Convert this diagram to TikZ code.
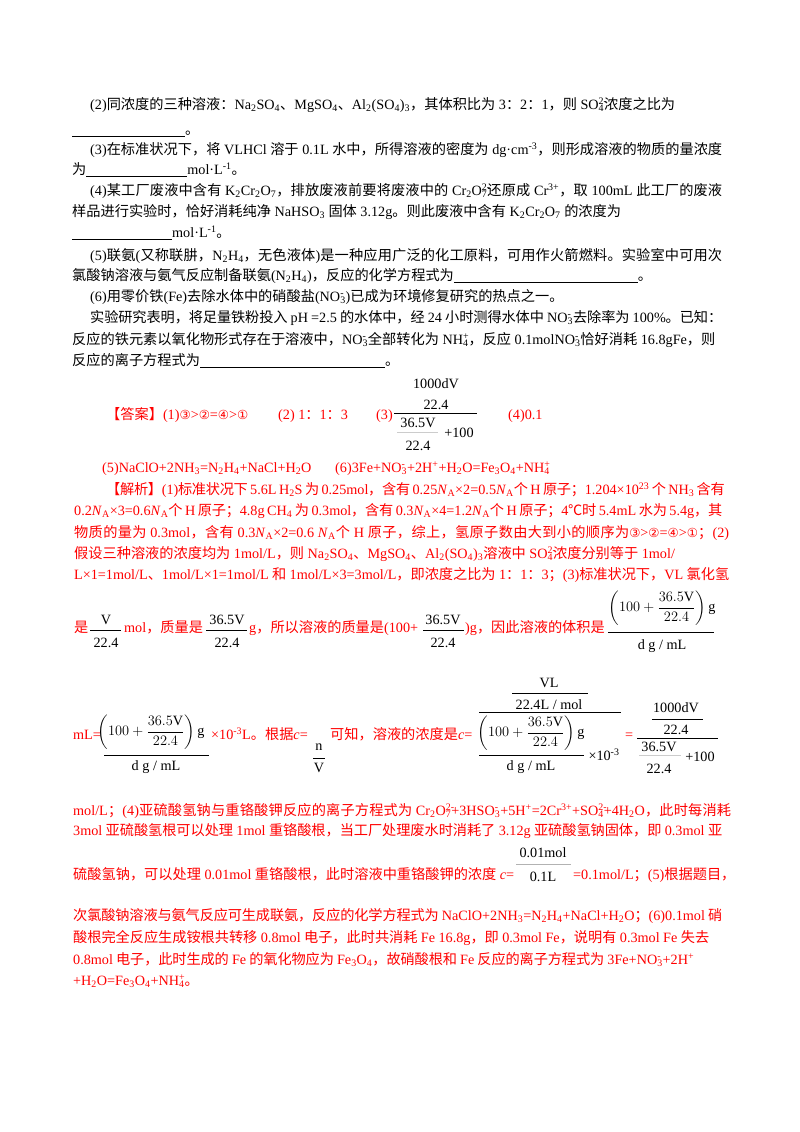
\documentclass[tikz,border=0pt]{standalone}
\usepackage{amsmath}
\usepackage{fontspec}
\setmainfont{Liberation Serif}
\newfontfamily\cjk{Noto Sans CJK SC}
\newfontfamily\latn{Liberation Serif}
\newfontfamily\dv{DejaVu Sans}
\XeTeXinterchartokenstate=1
\newXeTeXintercharclass\cjkclass
\newcount\cc
\def\setrange#1#2{\cc=#1\relax\loop\XeTeXcharclass\cc=\cjkclass\advance\cc1\relax\ifnum\cc<#2\repeat}
\setrange{"4E00}{"9FFF}
\setrange{"3000}{"303F}
\setrange{"FF00}{"FFEF}
\XeTeXcharclass"2103=\cjkclass
\XeTeXinterchartoks 0 \cjkclass={\hskip0pt plus 2pt minus .3pt\cjk}
\XeTeXinterchartoks 4095 \cjkclass={\cjk}
\XeTeXinterchartoks \cjkclass 0={\hskip0pt plus 2pt minus .3pt\latn}
\XeTeXinterchartoks \cjkclass 4095={\latn}
\XeTeXinterchartoks \cjkclass \cjkclass={\hskip0pt plus 2pt minus .3pt\relax}
\newcommand\dn[1]{\textsubscript{#1}}
\newcommand\up[1]{\textsuperscript{#1}}
\newcommand\io[2]{\rlap{\textsuperscript{#2}}\textsubscript{#1}}
\newcommand\NA{\textit{N}\dn{A}}
\newcommand\blank[1]{\rule[-2pt]{#1pt}{0.5pt}}
\newcommand\jl[2]{\makebox[#1pt][s]{#2}}
\newcommand\ci[1]{{\dv\fontsize{12.5}{14}\selectfont #1}}
\begin{document}
\begin{tikzpicture}[x=1pt,y=-1pt,
  t/.style={anchor=mid west,inner sep=0pt,font=\fontsize{14.2}{16}\selectfont},
  r/.style={t,text=red},
  m/.style={anchor=center,inner sep=0pt,font=\fontsize{14.2}{16}\selectfont}]
\useasboundingbox[fill=white] (0,0) rectangle (800,1132);
\node[t] (l1) at (90,107) {(2)同浓度的三种溶液：Na\dn{2}SO\dn{4}、MgSO\dn{4}、Al\dn{2}(SO\dn{4})\dn{3}，其体积比为 3：2：1，则 SO\io{4}{2-}浓度之比为};
\node[t] (l2) at (72,132) {\blank{113}。};
\node[t] (l3) at (90,152) {\jl{632}{(3)在标准状况下，将 VLHCl 溶于 0.1L 水中，所得溶液的密度为 dg·cm\up{-3}，则形成溶液的物质的量浓度}};
\node[t] (l4) at (72,172) {为\blank{101}mol·L\up{-1}。};
\node[t] (l5) at (90,193) {\jl{632}{(4)某工厂废液中含有 K\dn{2}Cr\dn{2}O\dn{7}，排放废液前要将废液中的 Cr\dn{2}O\io{7}{2-}还原成 Cr\up{3+}，取 100mL 此工厂的废液}};
\node[t] (l6) at (72,214) {样品进行实验时，恰好消耗纯净 NaHSO\dn{3} 固体 3.12g。则此废液中含有 K\dn{2}Cr\dn{2}O\dn{7} 的浓度为};
\node[t] (l7) at (72,235) {\blank{100}mol·L\up{-1}。};
\node[t] (l8) at (90,258) {\jl{632}{(5)联氨(又称联肼，N\dn{2}H\dn{4}，无色液体)是一种应用广泛的化工原料，可用作火箭燃料。实验室中可用次}};
\node[t] (l9) at (72,278) {氯酸钠溶液与氨气反应制备联氨(N\dn{2}H\dn{4})，反应的化学方程式为\blank{184}。};
\node[t] (l10) at (90,299) {(6)用零价铁(Fe)去除水体中的硝酸盐(NO\io{3}{-})已成为环境修复研究的热点之一。};
\node[t] (l11) at (90,320) {\jl{632}{实验研究表明，将足量铁粉投入 pH =2.5 的水体中，经 24 小时测得水体中 NO\io{3}{-}去除率为 100\%。已知：}};
\node[t] (l12) at (72,342) {反应的铁元素以氧化物形式存在于溶液中，NO\io{3}{-}全部转化为 NH\io{4}{+}，反应 0.1molNO\io{3}{-}恰好消耗 16.8gFe，则};
\node[t] (l13) at (72,363) {反应的离子方程式为\blank{185}。};
% answer
\node[r] (a1) at (106,417) {【答案】(1)\ci{③}>\ci{②}=\ci{④}>\ci{①}};
\node[r] (a2) at (278,417) {(2) 1：1：3};
\node[r] (a3) at (376,417) {(3)};
\node[m] (f1) at (436,384) {1000dV};
\node[m] (f2) at (436,405) {22.4};
\draw[line width=0.8pt] (394,413) -- (477,413);
\node[m] (f3) at (418,423) {36.5V};
\draw[gray!40] (397,432) -- (438,432);
\node[m] (f4) at (459,433) {+100};
\node[m] (f5) at (418,446) {22.4};
\node[r] (a4) at (508,417) {(4)0.1};
\node[r] (a5) at (102,470) {(5)NaClO+2NH\dn{3}=N\dn{2}H\dn{4}+NaCl+H\dn{2}O};
\node[r] (a6) at (335,470) {(6)3Fe+NO\io{3}{-}+2H\up{+}+H\dn{2}O=Fe\dn{3}O\dn{4}+NH\io{4}{+}};
% analysis
\node[r] (j1) at (106,492) {\jl{616}{【解析】(1)标准状况下 5.6L H\dn{2}S 为 0.25mol，含有 0.25\NA×2=0.5\NA 个 H 原子；1.204×10\up{23} 个 NH\dn{3} 含有}};
\node[r] (j2) at (74,513) {\jl{648}{0.2\NA×3=0.6\NA 个 H 原子；4.8g CH\dn{4} 为 0.3mol，含有 0.3\NA×4=1.2\NA 个 H 原子；4℃时 5.4mL 水为 5.4g，其}};
\node[r] (j3) at (74,535) {\jl{655}{物质的量为 0.3mol，含有 0.3\NA×2=0.6 \NA 个 H 原子，综上，氢原子数由大到小的顺序为\ci{③}>\ci{②}=\ci{④}>\ci{①}；(2)}};
\node[r] (j4) at (74,556) {假设三种溶液的浓度均为 1mol/L，则 Na\dn{2}SO\dn{4}、MgSO\dn{4}、Al\dn{2}(SO\dn{4})\dn{3}溶液中 SO\io{4}{2-}浓度分别等于 1mol/};
\node[r] (j5) at (74,577) {\jl{655}{L×1=1mol/L、1mol/L×1=1mol/L 和 1mol/L×3=3mol/L，即浓度之比为 1：1：3；(3)标准状况下，VL 氯化氢}};
\node[r] (j6a) at (74,630) {是};
\node[m] (v1) at (106,620) {V};
\draw (90,630) -- (121,630);
\node[m] (v2) at (106,643) {22.4};
\node[r] (j6b) at (124,630) {mol，质量是};
\node[m] (v3) at (227,620) {36.5V};
\draw (206,630) -- (247,630);
\node[m] (v4) at (227,643) {22.4};
\node[r] (j6c) at (249,630) {g，所以溶液的质量是(100+};
\node[m] (v5) at (443,620) {36.5V};
\draw (423,630) -- (464,630);
\node[m] (v6) at (443,643) {22.4};
\node[r] (j6d) at (465,630) {)g，因此溶液的体积是};
\node[m] (b1) at (662,608) {$\left(100+\dfrac{36.5\mathrm{V}}{22.4}\right)\mathrm{g}$};
\draw (608,632) -- (714,632) ;
\node[m] (b2) at (662,646) {d g / mL};
% line mL=
\node[r] (k1) at (73,737) {mL=};
\node[m] (b3) at (151,732) {$\left(100+\dfrac{36.5\mathrm{V}}{22.4}\right)\mathrm{g}$};
\draw (104,755) -- (209,755);
\node[m] (b4) at (156,767) {d g / mL};
\node[r] (k2) at (211,737) {×10\up{-3}L。根据\textit{c}=};
\node[m] (n1) at (319,747) {n};
\draw (313,758) -- (325,758);
\node[m] (n2) at (319,768) {V};
\node[r] (k3) at (330,737) {可知，溶液的浓度是\textit{c}=};
\node[m] (g1) at (549,683) {VL};
\draw (512,693) -- (588,693);
\node[m] (g2) at (549,705) {22.4L / mol};
\draw (479,712) -- (621,712);
\node[m] (g3) at (531,733) {$\left(100+\dfrac{36.5\mathrm{V}}{22.4}\right)\mathrm{g}$};
\draw (479,755) -- (584,755);
\node[m] (g4) at (531,767) {d g / mL};
\node[m] (g5) at (604,755) {×10\up{-3}};
\node[r] (k4) at (625,737) {=};
\node[m] (h1) at (676,708) {1000dV};
\draw (652,719) -- (703,719);
\node[m] (h2) at (676,730) {22.4};
\draw[line width=0.8pt] (637,738) -- (718,738);
\node[m] (h3) at (659,747) {36.5V};
\draw[gray!40] (639,755) -- (681,755);
\node[m] (h4) at (700,757) {+100};
\node[m] (h5) at (659,769) {22.4};
\node[r] (k5) at (73,813) {\jl{658}{mol/L；(4)亚硫酸氢钠与重铬酸钾反应的离子方程式为 Cr\dn{2}O\io{7}{2-}+3HSO\io{3}{-}+5H\up{+}=2Cr\up{3+}+SO\io{4}{2-}+4H\dn{2}O，此时每消耗}};
\node[r] (k6) at (73,833) {\jl{649}{3mol 亚硫酸氢根可以处理 1mol 重铬酸根，当工厂处理废水时消耗了 3.12g 亚硫酸氢钠固体，即 0.3mol 亚}};
\node[m] (p1) at (543,853) {0.01mol};
\draw[gray!60] (516,864) -- (571,864);
\node[m] (p2) at (543,877) {0.1L};
\node[r] (k7) at (73,877) {\jl{441}{硫酸氢钠，可以处理 0.01mol 重铬酸根，此时溶液中重铬酸钾的浓度 \textit{c}=}};
\node[r] (k8) at (573,877) {=0.1mol/L；(5)根据题目，};
\node[r] (k9) at (73,918) {\jl{649}{次氯酸钠溶液与氨气反应可生成联氨，反应的化学方程式为 NaClO+2NH\dn{3}=N\dn{2}H\dn{4}+NaCl+H\dn{2}O；(6)0.1mol 硝}};
\node[r] (k10) at (73,940) {\jl{636}{酸根完全反应生成铵根共转移 0.8mol 电子，此时共消耗 Fe 16.8g，即 0.3mol Fe，说明有 0.3mol Fe 失去}};
\node[r] (k11) at (73,962) {\jl{621}{0.8mol 电子，此时生成的 Fe 的氧化物应为 Fe\dn{3}O\dn{4}，故硝酸根和 Fe 反应的离子方程式为 3Fe+NO\io{3}{-}+2H\up{+}}};
\node[r] (k12) at (73,983) {+H\dn{2}O=Fe\dn{3}O\dn{4}+NH\io{4}{+}。};
\end{tikzpicture}
\end{document}
